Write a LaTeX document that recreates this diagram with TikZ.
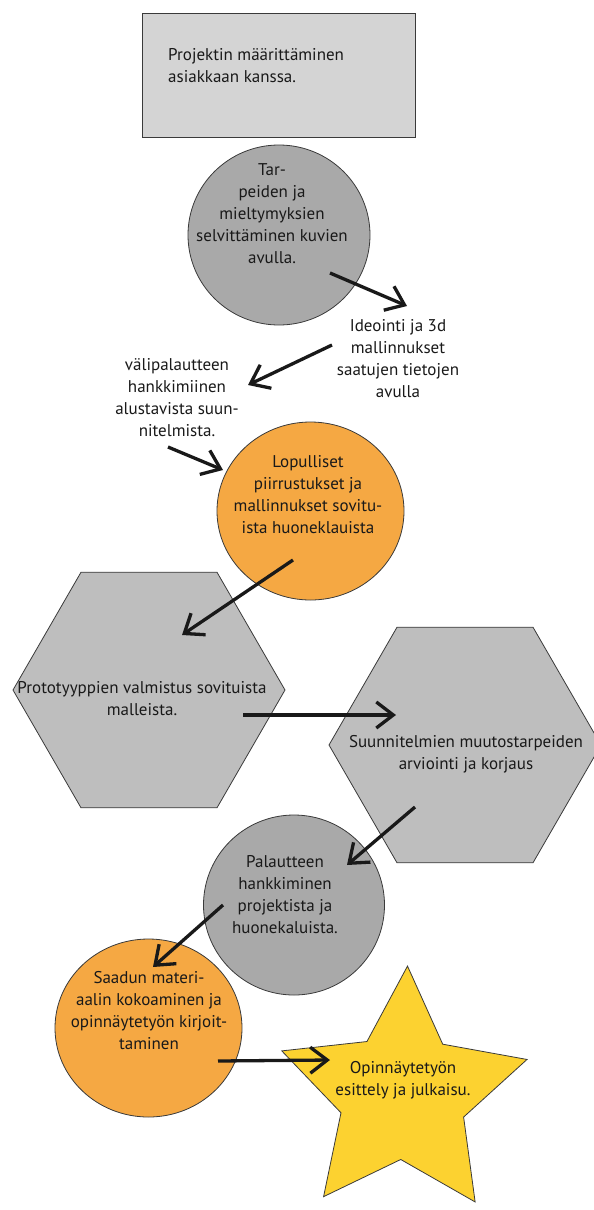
\documentclass[tikz,border=0pt]{standalone}
\usepackage{fontspec}
\setmainfont{PT Sans}
\usetikzlibrary{shapes.geometric, arrows.meta}
\definecolor{reuna}{HTML}{3A3A3A}
\definecolor{vaalea}{HTML}{D4D4D4}
\definecolor{harmaa}{HTML}{A9A9A9}
\definecolor{kuusi}{HTML}{BEBEBE}
\definecolor{oranssi}{HTML}{F5A843}
\definecolor{keltainen}{HTML}{FCD230}
\tikzset{
    %Define standard arrow tip
    >={Straight Barb[length=17pt,width=26pt]},
    %Define style for the box
    laa/.style={
           rectangle,
           draw=reuna, line width=1pt,
           fill=vaalea,
           minimum width=273pt,
           minimum height=124pt},
    %round steps
    ymp/.style={
           ellipse,
           draw=reuna, line width=0.8pt,
           inner sep=0pt},
    %hexagons
    kuu/.style={
           regular polygon,
           regular polygon sides=6,
           draw=reuna, line width=0.8pt,
           fill=kuusi,
           inner sep=0pt,
           minimum size=272pt},
    %the star
    tah/.style={
           star,
           star points=5,
           star point ratio=2,
           shape border rotate=-2,
           draw=reuna, line width=0.8pt,
           fill=keltainen,
           inner sep=0pt,
           minimum size=258pt},
    %texts
    tek/.style={
           inner sep=0pt,
           align=center,
           text=black!90,
           font=\fontsize{17}{22}\selectfont},
    % Define arrow style
    nuo/.style={
           ->,
           line width=3.3pt,
           draw=black!90}
}
\begin{document}
\begin{tikzpicture}[x=1pt,y=-1pt]
\useasboundingbox (0,0) rectangle (594,1210);

\node[laa] (A) at (278.5,75) {};
\node[tek, anchor=west, align=left] (At) at (168,65.5) {Projektin määrittäminen\\asiakkaan kanssa.};

\node[ymp, fill=harmaa, minimum width=182pt, minimum height=180pt] (B) at (279,235) {};
\node[tek] (Bt) at (272,213.5) {Tar-\\peiden ja\\mieltymyksien\\selvittäminen kuvien\\avulla.};

\node[tek] (C) at (398,358.5) {Ideointi ja 3d\\mallinnukset\\saatujen tietojen\\avulla};
\node[tek] (D) at (177,397.5) {välipalautteen\\hankkimiinen\\alustavista suun-\\nitelmista.};

\node[ymp, fill=oranssi, minimum width=187pt, minimum height=178pt] (E) at (310.5,511) {};
\node[tek] (Et) at (308,495) {Lopulliset\\piirrustukset ja\\mallinnukset sovitu-\\ista huoneklauista};

\node[kuu] (F) at (149,690) {};
\node[tek] (Ft) at (142,699) {Prototyyppien valmistus sovituista\\malleista.};

\node[kuu] (G) at (465,745) {};
\node[tek] (Gt) at (466,754) {Suunnitelmien muutostarpeiden\\arviointi ja korjaus};

\node[ymp, fill=harmaa, minimum width=181pt, minimum height=180pt] (H) at (294,905) {};
\node[tek] (Ht) at (285,894.5) {Palautteen\\hankkiminen\\projektista ja\\huonekaluista.};

\node[ymp, fill=oranssi, minimum width=187pt, minimum height=178pt] (I) at (148.5,1028) {};
\node[tek] (It) at (149,1010.5) {Saadun materi-\\aalin kokoaminen ja\\opinnäytetyön kirjoit-\\taminen};

\node[tah] (J) at (403,1095) {};
\node[tek] (Jt) at (403,1080.5) {Opinnäytetyön\\esittely ja julkaisu.};

\path
 ([shift={(51,38)}]B.center)     edge[nuo] ([shift={(9,-52.5)}]C.center)
 ([shift={(-66,-13.5)}]C.center) edge[nuo] ([shift={(71,-12.5)}]D.center)
 ([shift={(-9,49.5)}]D.center)   edge[nuo] ([shift={(-87.5,-41)}]E.center)
 ([shift={(-17.5,49)}]E.center)  edge[nuo] ([shift={(33,-55)}]F.center)
 ([shift={(94,25)}]F.center)     edge[nuo] ([shift={(-69,-30)}]G.center)
 ([shift={(-50,62)}]G.center)    edge[nuo] ([shift={(53,-40)}]H.center)
 ([shift={(-71,0)}]H.center)     edge[nuo] ([shift={(4.5,-61)}]I.center)
 ([shift={(69.5,33)}]I.center)   edge[nuo] ([shift={(-73,-35)}]J.center);

\end{tikzpicture}
\end{document}
